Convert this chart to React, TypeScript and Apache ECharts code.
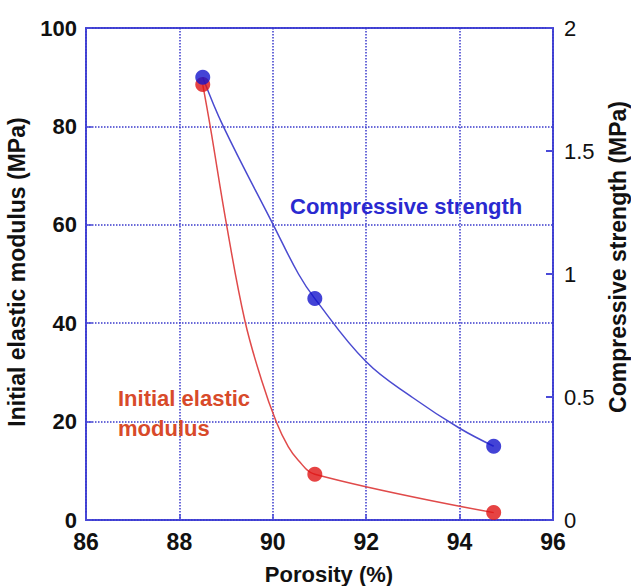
import React, { useEffect, useRef } from "react";
import * as echarts from "echarts";

const xTicks = { min: 86, max: 96, interval: 2 };
const leftTicks = { min: 0, max: 100, interval: 20 };
const rightTicks = { min: 0, max: 2, interval: 0.5 };

// measured points
const modulusPoints: [number, number][] = [
  [88.5, 88.5],
  [90.9, 9.3],
  [94.73, 1.5],
];
const strengthPoints: [number, number][] = [
  [88.5, 1.8],
  [90.9, 0.9],
  [94.73, 0.3],
];

// fitted curves
const modulusCurve: [number, number][] = [
  [88.5, 88.5],
  [88.66, 80],
  [89.01, 60],
  [89.4, 40.6],
  [89.76, 28.4],
  [90.08, 19.8],
  [90.33, 14.9],
  [90.54, 12.2],
  [90.9, 9.3],
  [94.73, 1.5],
];
const strengthCurve: [number, number][] = [
  [88.5, 1.8],
  [88.94, 1.6],
  [90.01, 1.2],
  [90.55, 1.0],
  [90.9, 0.9],
  [92.0, 0.643],
  [93.0, 0.497],
  [94.0, 0.373],
  [94.73, 0.3],
];

const FONT = "Liberation Sans, Arial, sans-serif";
const BLUE_AXIS = "#4a4ad8";
const GRID_BLUE = "#3a3acc";
const RED_MARK = "#e01414";
const RED_LINE = "#e04a4a";
const BLUE_MARK = "#1414cc";
const BLUE_LINE = "#4a4ad0";

export default function App() {
  const ref = useRef<HTMLDivElement>(null);
  useEffect(() => {
    if (!ref.current) return;
    const chart = echarts.init(ref.current, undefined, { renderer: "svg" });
    chart.setOption({
      animation: false,
      backgroundColor: "#ffffff",
      grid: {
        left: 86,
        top: 28,
        width: 467,
        height: 492,
        show: true,
        borderColor: BLUE_AXIS,
        borderWidth: 2,
        backgroundColor: "transparent",
      },
      xAxis: {
        type: "value",
        min: xTicks.min,
        max: xTicks.max,
        interval: xTicks.interval,
        axisLine: { show: false },
        axisTick: { show: true, inside: true, length: 6, lineStyle: { color: BLUE_AXIS, width: 1.5 } },
        axisLabel: {
          color: "#111",
          fontFamily: FONT,
          fontWeight: "bold",
          fontSize: 23,
          margin: 10,
        },
        splitLine: { show: true, lineStyle: { color: GRID_BLUE, type: "dotted", width: 1.5 } },
      },
      yAxis: [
        {
          type: "value",
          position: "left",
          min: leftTicks.min,
          max: leftTicks.max,
          interval: leftTicks.interval,
          axisLine: { show: false },
          axisTick: { show: true, inside: true, length: 6, lineStyle: { color: BLUE_AXIS, width: 1.5 } },
          axisLabel: {
            color: "#111",
            fontFamily: FONT,
            fontWeight: "bold",
            fontSize: 22,
            margin: 9,
          },
          splitLine: { show: true, lineStyle: { color: GRID_BLUE, type: "dotted", width: 1.5 } },
        },
        {
          type: "value",
          position: "right",
          min: rightTicks.min,
          max: rightTicks.max,
          interval: rightTicks.interval,
          axisLine: { show: false },
          axisTick: { show: true, inside: true, length: 7, lineStyle: { color: BLUE_AXIS, width: 2 } },
          axisLabel: {
            color: "#111",
            fontFamily: FONT,
            fontSize: 22,
            margin: 11,
          },
          splitLine: { show: false },
        },
      ],
      series: [
        {
          type: "line",
          yAxisIndex: 0,
          data: modulusCurve,
          smooth: 0.4,
          showSymbol: false,
          symbol: "none",
          lineStyle: { color: RED_LINE, width: 1.5 },
          z: 3,
        },
        {
          type: "line",
          yAxisIndex: 1,
          data: strengthCurve,
          smooth: 0.4,
          showSymbol: false,
          symbol: "none",
          lineStyle: { color: BLUE_LINE, width: 1.5 },
          z: 3,
        },
        {
          type: "scatter",
          yAxisIndex: 0,
          data: modulusPoints,
          symbol: "circle",
          symbolSize: 15,
          itemStyle: { color: RED_MARK },
          z: 4,
        },
        {
          type: "scatter",
          yAxisIndex: 1,
          data: strengthPoints,
          symbol: "circle",
          symbolSize: 15,
          itemStyle: { color: BLUE_MARK },
          z: 5,
        },
      ],
      graphic: [
        {
          type: "text",
          x: 17,
          y: 272,
          rotation: Math.PI / 2,
          style: {
            text: "Initial elastic modulus (MPa)",
            font: `bold 23px ${FONT}`,
            fill: "#111",
            textAlign: "center",
            textVerticalAlign: "middle",
          },
        },
        {
          type: "text",
          x: 618,
          y: 257,
          rotation: Math.PI / 2,
          style: {
            text: "Compressive strength (MPa)",
            font: `bold 23px ${FONT}`,
            fill: "#111",
            textAlign: "center",
            textVerticalAlign: "middle",
          },
        },
        {
          type: "text",
          x: 329,
          y: 574,
          style: {
            text: "Porosity (%)",
            font: `bold 22px ${FONT}`,
            fill: "#111",
            textAlign: "center",
            textVerticalAlign: "middle",
          },
        },
        {
          type: "text",
          x: 290,
          y: 206,
          z: 10,
          style: {
            text: "Compressive strength",
            font: `bold 22px ${FONT}`,
            fill: "#2a2ad0",
            textAlign: "left",
            textVerticalAlign: "middle",
          },
        },
        {
          type: "text",
          x: 118,
          y: 398,
          z: 10,
          style: {
            text: "Initial elastic",
            font: `bold 22px ${FONT}`,
            fill: "#d84a2a",
            textAlign: "left",
            textVerticalAlign: "middle",
          },
        },
        {
          type: "text",
          x: 118,
          y: 428,
          z: 10,
          style: {
            text: "modulus",
            font: `bold 22px ${FONT}`,
            fill: "#d84a2a",
            textAlign: "left",
            textVerticalAlign: "middle",
          },
        },
      ],
    });
    return () => chart.dispose();
  }, []);
  return (
    <div
      ref={ref}
      style={{ position: "fixed", left: 0, top: 0, width: 631, height: 586 }}
    />
  );
}
